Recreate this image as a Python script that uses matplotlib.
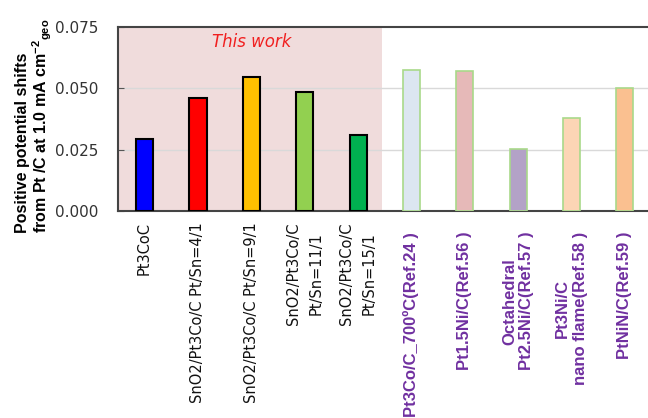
import matplotlib.pyplot as plt

plt.rcParams["mathtext.default"] = "regular"

# this work
work_labels = ["Pt3CoC",
               "SnO2/Pt3Co/C Pt/Sn=4/1",
               "SnO2/Pt3Co/C Pt/Sn=9/1",
               "SnO2/Pt3Co/C\nPt/Sn=11/1",
               "SnO2/Pt3Co/C\nPt/Sn=15/1"]
work_values = [0.0292, 0.0461, 0.0545, 0.0484, 0.0310]
work_colors = ["#0000ff", "#ff0000", "#ffc000", "#92d050", "#00b050"]

# literature
ref_labels = ["Pt3Co/C_700ºC(Ref.24 )",
              "Pt1.5Ni/C(Ref.56 )",
              "Octahedral\nPt2.5Ni/C(Ref.57 )",
              "Pt3Ni/C\nnano flame(Ref.58 )",
              "PtNiN/C(Ref.59 )"]
ref_values = [0.0575, 0.0571, 0.0251, 0.0380, 0.0500]
ref_colors = ["#dce6f1", "#e6b9b8", "#b3a2c7", "#fcd5b5", "#fac090"]

yticks = [0.000, 0.025, 0.050, 0.075]

fig = plt.figure(figsize=(6.48, 4.18), dpi=100)
ax = fig.add_axes([0.182, 0.4952, 0.8236, 0.4402])

n_work = len(work_values)
x_work = list(range(n_work))
x_ref = list(range(n_work, n_work + len(ref_values)))

ax.axvspan(-0.5, 4.44, color="#f0dcdc", zorder=0, lw=0)
for y in yticks[1:3]:
    ax.axhline(y, color="#d9d9d9", lw=1, zorder=1)

ax.bar(x_work, work_values, width=0.32, color=work_colors,
       edgecolor="black", linewidth=1.5, zorder=3)
ax.bar(x_ref, ref_values, width=0.32, color=ref_colors,
       edgecolor="#a9d98a", linewidth=1.2, zorder=3)

ax.set_xlim(-0.5, 9.5)
ax.set_ylim(0, 0.075)
ax.set_yticks(yticks)
ax.set_yticklabels([f"{v:.3f}" for v in yticks], fontsize=11, color="#333333")
ax.set_xticks([])
ax.tick_params(axis="y", direction="in", length=4, color="#555555", pad=14)

for side in ["left", "bottom", "top"]:
    ax.spines[side].set_color("#444444")
    ax.spines[side].set_linewidth(1.5)
ax.spines["right"].set_visible(False)

for x, lab in zip(x_work, work_labels):
    ax.annotate(lab, xy=(x, 0), xycoords=("data", "axes fraction"),
                xytext=(0, -8), textcoords="offset points",
                rotation=90, ha="center", va="top", multialignment="center",
                fontsize=10.5, color="#111111", linespacing=1.6)

for x, lab in zip(x_ref, ref_labels):
    ax.annotate(lab, xy=(x, 0), xycoords=("data", "axes fraction"),
                xytext=(0, -15), textcoords="offset points",
                rotation=90, ha="center", va="top", multialignment="center",
                fontsize=12, fontweight="bold", color="#7030a0",
                family="Liberation Sans")

ax.text(2.0, 0.0689, "This work", color="#f02020", fontsize=12,
        style="italic", ha="center", va="center")

# y label, two lines
fig.text(23 / 648, 1 - 233 / 418, "Positive potential shifts",
         rotation=90, ha="center", va="bottom", fontsize=11.5,
         fontweight="bold", family="Liberation Sans")
fig.text(42 / 648, 1 - 233 / 418, "from Pt /C at 1.0 mA cm$^{-2}$$_{geo}$",
         rotation=90, ha="center", va="bottom", fontsize=11.5,
         fontweight="bold", family="Liberation Sans")

fig.savefig("out.png", dpi=100)
